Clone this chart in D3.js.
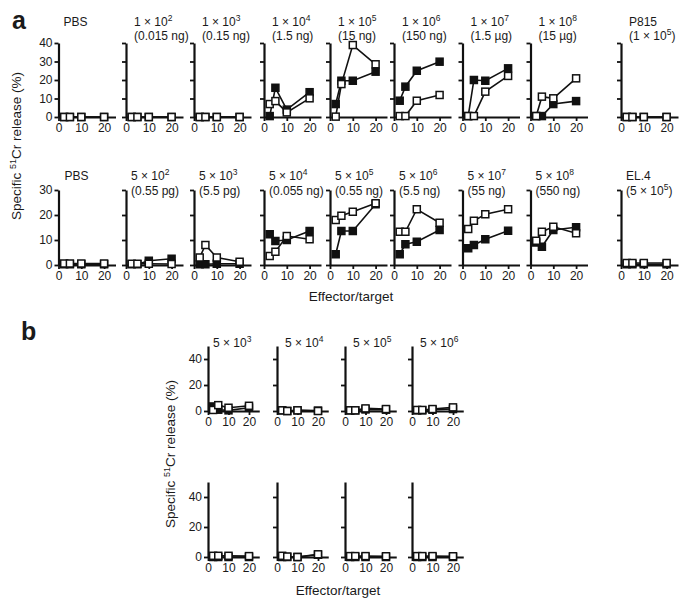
<!DOCTYPE html>
<html><head><meta charset="utf-8">
<script src="https://cdn.jsdelivr.net/npm/d3@7"></script>
<style>
body{margin:0;background:#fff;}
text{font-family:"Liberation Sans",Arial,Helvetica,sans-serif;fill:#1a1a1a;}
</style></head>
<body><svg id="c" width="685" height="600"></svg>
<script>
// ---------- DATA ----------
const etRatios = [2.5, 5, 10, 20];
const xTickValues = [0, 10, 20];

// Panel a, row 1
const a1Titles = ["PBS", "1 × 10^2", "1 × 10^3", "1 × 10^4", "1 × 10^5", "1 × 10^6", "1 × 10^7", "1 × 10^8", "P815"];
const a1Subtitles = ["", "(0.015 ng)", "(0.15 ng)", "(1.5 ng)", "(15 ng)", "(150 ng)", "(1.5 µg)", "(15 µg)", "(1 × 10^5)"];
const a1Filled = [
  [0, 0, 0, 0], [0, 0, 0, 0], [0, 0, 0, 0],
  [0.5, 15.8, 4, 13.4],
  [7, 19.6, 19.6, 24.5],
  [8.8, 16.4, 25, 29.9],
  [0.5, 20, 19.6, 26.3],
  [0.5, 0.5, 7, 8.6],
  [0, 0, 0, 0]
];
const a1Open = [
  [0, 0, 0, 0], [0, 0, 0, 0], [0, 0, 0, 0],
  [7, 8.6, 2.5, 10.1],
  [0.2, 17.8, 38.9, 28.5],
  [0.5, 0.5, 8.8, 11.9],
  [0.5, 0.5, 13.7, 22.2],
  [0.5, 11, 10.1, 20.9],
  [0, 0, 0, 0]
];
const a1YTicks = [0, 10, 20, 30, 40];

// Panel a, row 2
const a2Titles = ["PBS", "5 × 10^2", "5 × 10^3", "5 × 10^4", "5 × 10^5", "5 × 10^6", "5 × 10^7", "5 × 10^8", "EL.4"];
const a2Subtitles = ["", "(0.55 pg)", "(5.5 pg)", "(0.055 ng)", "(0.55 ng)", "(5.5 ng)", "(55 ng)", "(550 ng)", "(5 × 10^5)"];
const a2Filled = [
  [0.3, 0.3, 0.3, 0.3],
  [0.3, 0.3, 1.7, 2.5],
  [0.3, 0.3, 0.5, 0.5],
  [12.3, 9.6, 10, 13.6],
  [4.3, 13.6, 13.6, 24.3],
  [4.3, 8.3, 9.3, 14],
  [6.7, 8, 10.3, 13.7],
  [9, 7.3, 14, 15.1],
  [0.3, 0.3, 0.3, 0.3]
];
const a2Open = [
  [0.6, 0.6, 0.6, 0.6],
  [0.5, 0.5, 0.5, 0.4],
  [3, 8, 3, 1.3],
  [3.6, 5.3, 11.6, 10.3],
  [18, 19.7, 21.3, 24.7],
  [13.3, 13.3, 22.3, 16.9],
  [14.4, 17.7, 20.3, 22.3],
  [9.7, 13.3, 15.3, 12.7],
  [0.8, 0.8, 0.8, 0.8]
];
const a2YTicks = [0, 10, 20, 30];

// Panel b
const bTitles = ["5 × 10^3", "5 × 10^4", "5 × 10^5", "5 × 10^6"];
const b1Filled = [[3.5, 1, 0.5, 2.5], [0.5, 0, 0.5, 0.3], [0.5, 0.5, 1.2, 1], [0.5, 0.5, 1, 1.5]];
const b1Open = [[0.8, 4.5, 2.5, 4], [0.5, 0, 0.5, 0], [0.5, 0.5, 2, 1.5], [0.8, 0.8, 1.5, 2.8]];
const b2Filled = [[0, 0, 0, 0], [0, 0, 0, 1.5], [0, 0, 0, 0], [0, 0, 0, 0]];
const b2Open = [[0.8, 0.8, 0.8, 0.6], [0.8, 0.3, 0, 1.8], [0.6, 0.6, 0.6, 0.5], [0.6, 0.6, 0.6, 0.5]];
const bYTicks = [0, 20, 40];

// ---------- LAYOUT ----------
const svg = d3.select("#c");
const aAxisX = [58.5, 126, 194, 264, 330, 394, 462.5, 530.5, 621];
const bAxisX = [208, 277, 345, 412];

function richText(textSel, str) {
  const parts = str.split(/\^(\d+)/);
  let raised = false;
  parts.forEach((p, i) => {
    if (!p) return;
    const t = textSel.append("tspan").text(p);
    if (i % 2 === 1) {
      t.attr("dy", -5).attr("font-size", "8.5px");
      raised = true;
    } else if (raised) {
      t.attr("dy", 5);
      raised = false;
    }
  });
}

function drawPanel(opt) {
  const g = svg.append("g");
  const x = d3.scaleLinear().domain([0, 25]).range([opt.ax, opt.ax + 25 * opt.kx]);
  const y = d3.scaleLinear().domain([0, opt.yMax]).range([opt.y0, opt.yTop]);

  const ya = g.append("g").attr("transform", `translate(${opt.ax},0)`)
    .call(d3.axisLeft(y).tickValues(opt.yTicks).tickSize(4).tickSizeOuter(0).tickPadding(2)
      .tickFormat(opt.showY ? d3.format("d") : ""));
  const xa = g.append("g").attr("transform", `translate(0,${opt.y0})`)
    .call(d3.axisBottom(x).tickValues(xTickValues).tickSize(4).tickSizeOuter(0).tickPadding(2)
      .tickFormat(d3.format("d")));
  [ya, xa].forEach(a => {
    a.select(".domain").attr("stroke", "#111").attr("stroke-width", 2.2);
    a.selectAll(".tick line").attr("stroke", "#111").attr("stroke-width", 1.8);
    a.selectAll(".tick text").attr("font-size", "12px").attr("fill", "#1a1a1a")
      .attr("font-family", '"Liberation Sans",Arial,sans-serif');
  });

  const line = d3.line().x((d, i) => x(etRatios[i])).y(d => y(d));
  [opt.filled, opt.open].forEach(s => {
    g.append("path").datum(s).attr("d", line).attr("fill", "none")
      .attr("stroke", "#111").attr("stroke-width", 1.6);
  });
  const sz = 7;
  g.selectAll(".f").data(opt.filled).enter().append("rect")
    .attr("x", (d, i) => x(etRatios[i]) - sz / 2).attr("y", d => y(d) - sz / 2)
    .attr("width", sz).attr("height", sz).attr("fill", "#111").attr("stroke", "#111").attr("stroke-width", 1.5);
  g.selectAll(".o").data(opt.open).enter().append("rect")
    .attr("x", (d, i) => x(etRatios[i]) - sz / 2).attr("y", d => y(d) - sz / 2)
    .attr("width", sz).attr("height", sz).attr("fill", "#fff").attr("stroke", "#111").attr("stroke-width", 1.5);

  if (opt.title) {
    const t1 = g.append("text").attr("x", opt.ax + opt.tdx).attr("y", opt.t1y).attr("font-size", "12px");
    richText(t1, opt.title);
  }
  if (opt.sub) {
    const t2 = g.append("text").attr("x", opt.ax + opt.tdx).attr("y", opt.t2y).attr("font-size", "12px");
    richText(t2, opt.sub);
  }
}

// Row a1
aAxisX.forEach((ax, i) => drawPanel({
  ax, kx: 2.28, y0: 117, yTop: 43, yMax: 40, yTicks: a1YTicks, showY: i === 0,
  filled: a1Filled[i], open: a1Open[i], title: a1Titles[i], sub: a1Subtitles[i],
  tdx: i === 0 ? 5 : 8, t1y: 26, t2y: 40
}));
// Row a2
aAxisX.forEach((ax, i) => drawPanel({
  ax, kx: 2.28, y0: 265, yTop: 190, yMax: 30, yTicks: a2YTicks, showY: i === 0,
  filled: a2Filled[i], open: a2Open[i], title: a2Titles[i], sub: a2Subtitles[i],
  tdx: i === 0 ? 6 : 5, t1y: 180, t2y: 195
}));
// Row b1
bAxisX.forEach((ax, i) => drawPanel({
  ax, kx: 2.05, y0: 411, yTop: 346, yMax: 50, yTicks: bYTicks, showY: i === 0,
  filled: b1Filled[i], open: b1Open[i], title: bTitles[i], sub: "",
  tdx: i === 0 ? 5 : 8, t1y: 347, t2y: 0
}));
// Row b2
bAxisX.forEach((ax, i) => drawPanel({
  ax, kx: 2.05, y0: 557, yTop: 482, yMax: 50, yTicks: bYTicks, showY: i === 0,
  filled: b2Filled[i], open: b2Open[i], title: "", sub: ""
}));

// Labels
svg.append("text").attr("x", 12).attr("y", 29).attr("font-size", "25px").attr("font-weight", "bold").text("a");
svg.append("text").attr("x", 21).attr("y", 340).attr("font-size", "25px").attr("font-weight", "bold").text("b");

function yLabel(cx, cy) {
  const t = svg.append("text").attr("transform", `translate(${cx},${cy}) rotate(-90)`)
    .attr("text-anchor", "middle").attr("font-size", "13.5px");
  t.append("tspan").text("Specific ");
  t.append("tspan").attr("dy", -5).attr("font-size", "9px").text("51");
  t.append("tspan").attr("dy", 5).text("Cr release (%)");
}
yLabel(21, 146);
yLabel(175, 454);

svg.append("text").attr("x", 351).attr("y", 301).attr("text-anchor", "middle").attr("font-size", "13.5px").text("Effector/target");
svg.append("text").attr("x", 338).attr("y", 595).attr("text-anchor", "middle").attr("font-size", "13.5px").text("Effector/target");
</script></body></html>
